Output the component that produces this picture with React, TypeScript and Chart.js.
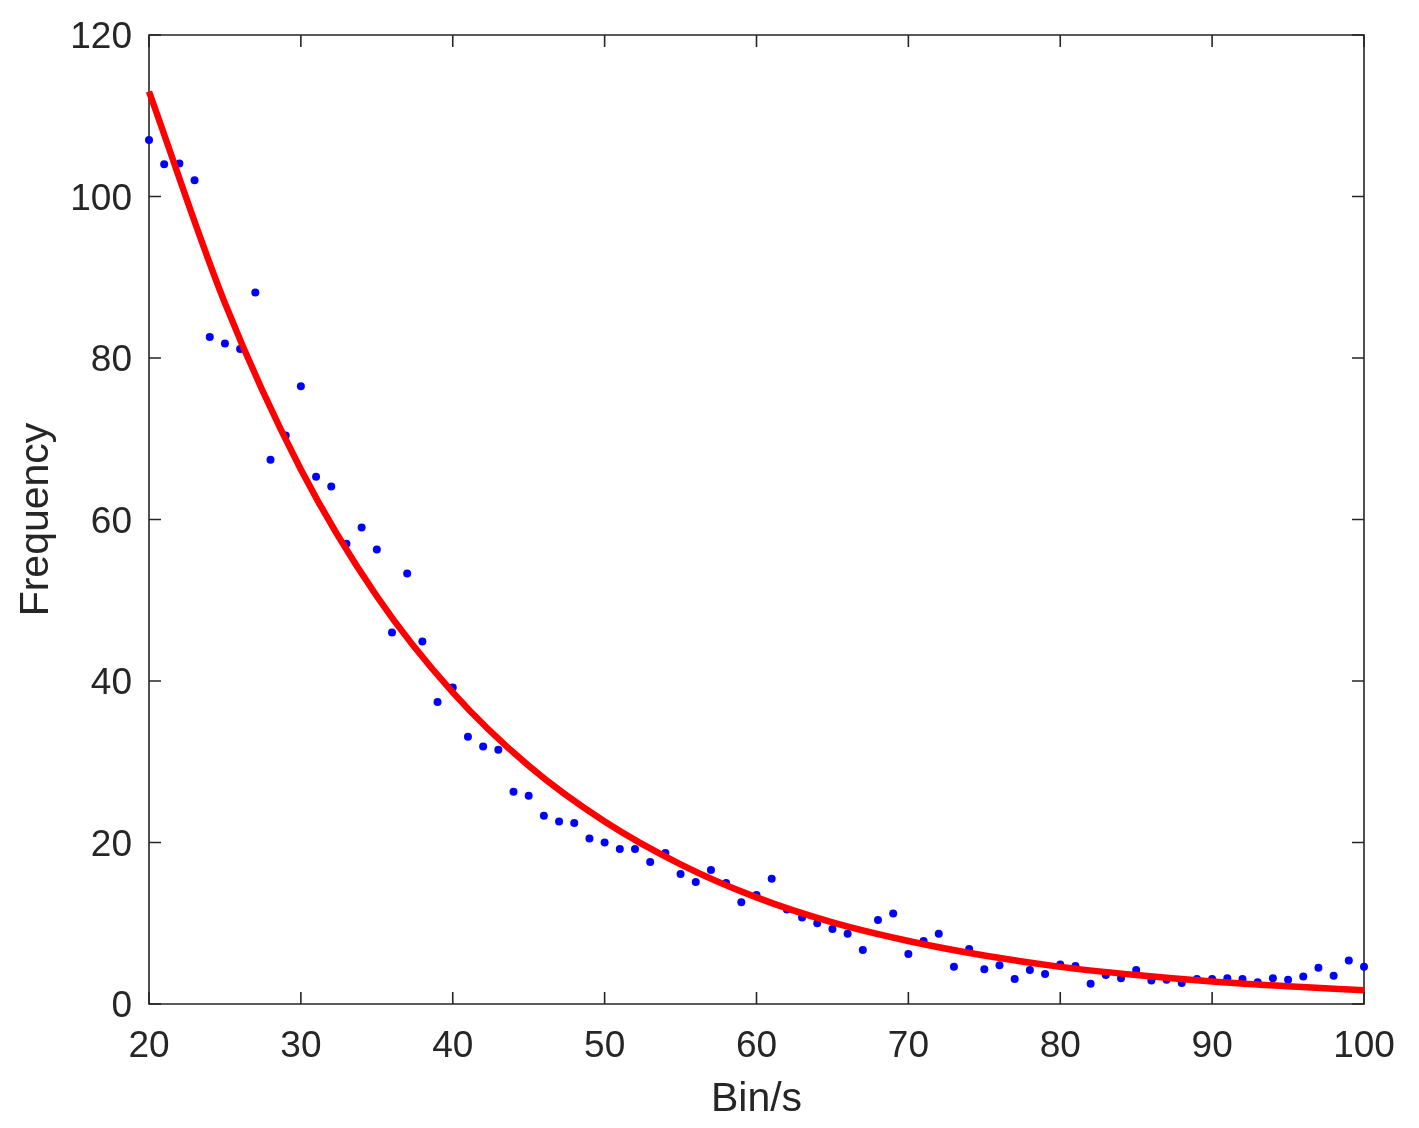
import React, { useEffect, useRef } from "react";
import { Chart, registerables } from "chart.js";

Chart.register(...registerables);

// Observed data (bins 20..100)
const binX: number[] = [
  20, 21, 22, 23, 24, 25, 26, 27, 28, 29, 30, 31, 32, 33, 34, 35, 36, 37, 38, 39,
  40, 41, 42, 43, 44, 45, 46, 47, 48, 49, 50, 51, 52, 53, 54, 55, 56, 57, 58, 59,
  60, 61, 62, 63, 64, 65, 66, 67, 68, 69, 70, 71, 72, 73, 74, 75, 76, 77, 78, 79,
  80, 81, 82, 83, 84, 85, 86, 87, 88, 89, 90, 91, 92, 93, 94, 95, 96, 97, 98, 99, 100,
];
const freqY: number[] = [
  107.0, 104.0, 104.1, 102.0, 82.6, 81.8, 81.1, 88.1, 67.4, 70.4, 76.5, 65.3, 64.1, 57.0, 59.0, 56.3, 46.0, 53.3, 44.9, 37.4,
  39.2, 33.1, 31.9, 31.5, 26.3, 25.8, 23.3, 22.6, 22.4, 20.5, 20.0, 19.2, 19.2, 17.6, 18.7, 16.1, 15.1, 16.6, 15.0, 12.6,
  13.5, 15.5, 11.7, 10.7, 10.0, 9.3, 8.7, 6.7, 10.4, 11.2, 6.2, 7.8, 8.7, 4.6, 6.8, 4.3, 4.8, 3.1, 4.2, 3.7,
  4.9, 4.7, 2.5, 3.6, 3.2, 4.2, 2.9, 3.0, 2.6, 3.1, 3.1, 3.2, 3.1, 2.7, 3.2, 3.0, 3.4, 4.5, 3.5, 5.4, 4.6,
];

// Fitted curve
const fitX: number[] = [20, 25, 30, 35, 40, 45, 50, 55, 60, 65, 70, 75, 80, 85, 90, 95, 100];
const fitY: number[] = [113.0, 86.8, 66.2, 50.5, 38.6, 29.5, 22.6, 17.3, 13.2, 10.1, 7.8, 6.0, 4.6, 3.6, 2.8, 2.2, 1.7];

const xTicks: number[] = [20, 30, 40, 50, 60, 70, 80, 90, 100];
const yTicks: number[] = [0, 20, 40, 60, 80, 100, 120];

const AXIS_COLOR = "#262626";
const FONT = "'Liberation Sans', Arial, Helvetica, sans-serif";

const framePlugin = {
  id: "matlabFrame",
  beforeDatasetsDraw(chart: any) {
    const { ctx, chartArea, scales } = chart;
    const { left, right, top, bottom } = chartArea;
    const tl = 12;
    ctx.save();
    ctx.strokeStyle = AXIS_COLOR;
    ctx.lineWidth = 1.6;
    ctx.beginPath();
    ctx.rect(left, top, right - left, bottom - top);
    ctx.stroke();
    ctx.beginPath();
    for (const v of xTicks) {
      const px = scales.x.getPixelForValue(v);
      ctx.moveTo(px, bottom);
      ctx.lineTo(px, bottom - tl);
      ctx.moveTo(px, top);
      ctx.lineTo(px, top + tl);
    }
    for (const v of yTicks) {
      const py = scales.y.getPixelForValue(v);
      ctx.moveTo(left, py);
      ctx.lineTo(left + tl, py);
      ctx.moveTo(right, py);
      ctx.lineTo(right - tl, py);
    }
    ctx.stroke();
    ctx.restore();
  },
};

export default function App() {
  const canvasRef = useRef<HTMLCanvasElement | null>(null);

  useEffect(() => {
    if (!canvasRef.current) return;
    const scatterData = binX.map((x, i) => ({ x, y: freqY[i] }));
    const fitData = fitX.map((x, i) => ({ x, y: fitY[i] }));

    const chart = new Chart(canvasRef.current, {
      type: "scatter",
      data: {
        datasets: [
          {
            type: "line",
            label: "Fit",
            data: fitData,
            borderColor: "#FF0000",
            backgroundColor: "#FF0000",
            borderWidth: 6.5,
            pointRadius: 0,
            showLine: true,
            fill: false,
            cubicInterpolationMode: "monotone",
            order: 0,
            clip: false,
          } as any,
          {
            type: "scatter",
            label: "Data",
            data: scatterData,
            backgroundColor: "#0000FF",
            borderColor: "#0000FF",
            borderWidth: 0,
            pointRadius: 4,
            order: 1,
            clip: false,
          } as any,
        ],
      },
      options: {
        animation: false,
        responsive: true,
        maintainAspectRatio: false,
        layout: { padding: { top: 35, right: 55, left: 0, bottom: 0 } },
        plugins: {
          legend: { display: false },
          tooltip: { enabled: false },
          title: { display: false },
        },
        scales: {
          x: {
            type: "linear",
            min: 20,
            max: 100,
            grid: { display: false, drawTicks: false },
            border: { display: false },
            afterBuildTicks: (scale: any) => {
              scale.ticks = xTicks.map((v) => ({ value: v }));
            },
            afterFit: (scale: any) => {
              scale.height = 124;
              scale.paddingLeft = 0;
              scale.paddingRight = 0;
            },
            ticks: {
              color: AXIS_COLOR,
              font: { family: FONT, size: 37 },
              padding: 21,
              maxRotation: 0,
              autoSkip: false,
            },
            title: {
              display: true,
              text: "Bin/s",
              color: AXIS_COLOR,
              font: { family: FONT, size: 41 },
              padding: { top: 0, bottom: 4 },
            },
          },
          y: {
            type: "linear",
            min: 0,
            max: 120,
            grid: { display: false, drawTicks: false },
            border: { display: false },
            afterBuildTicks: (scale: any) => {
              scale.ticks = yTicks.map((v) => ({ value: v }));
            },
            afterFit: (scale: any) => {
              scale.width = 149;
              scale.paddingTop = 0;
              scale.paddingBottom = 0;
            },
            ticks: {
              color: AXIS_COLOR,
              font: { family: FONT, size: 37 },
              padding: 17,
              labelOffset: 3,
              autoSkip: false,
            },
            title: {
              display: true,
              text: "Frequency",
              color: AXIS_COLOR,
              font: { family: FONT, size: 41 },
              padding: { top: 12, bottom: 0 },
            },
          },
        },
      },
      plugins: [framePlugin],
    });

    return () => {
      chart.destroy();
    };
  }, []);

  return (
    <div
      style={{
        position: "fixed",
        left: 0,
        top: 0,
        width: 1419,
        height: 1128,
        background: "#ffffff",
      }}
    >
      <canvas ref={canvasRef} />
    </div>
  );
}
